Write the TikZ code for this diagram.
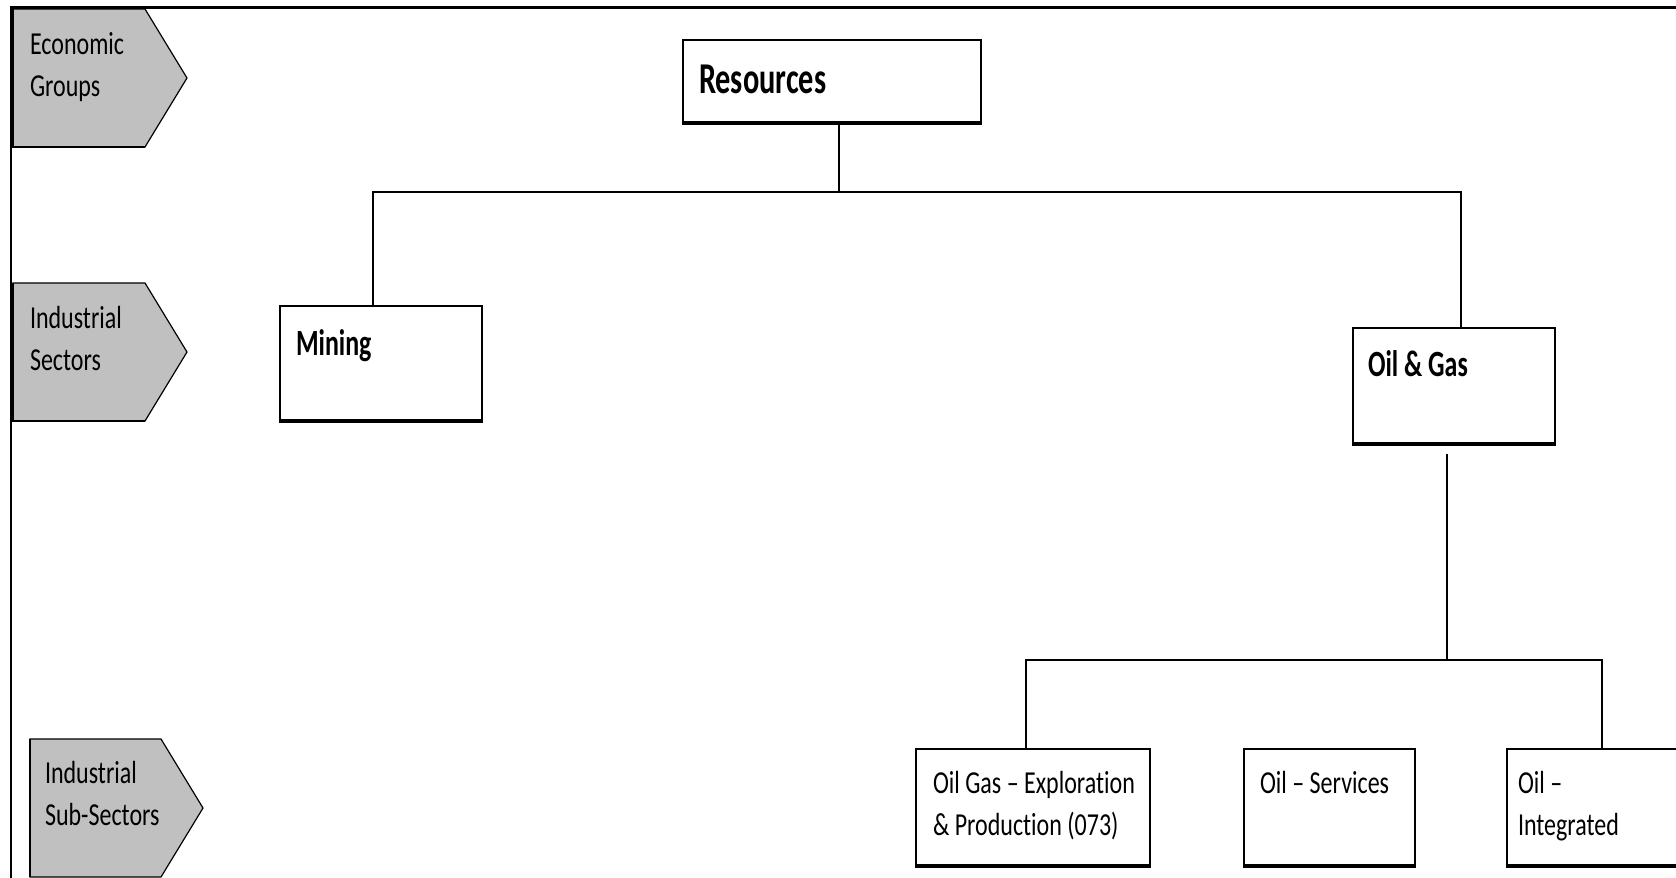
\documentclass[tikz,border=0pt]{standalone}
\usepackage{fontspec}
\usepackage{graphicx}
\setmainfont{Carlito}[Ligatures={TeX,NoCommon}]
\definecolor{tagfill}{RGB}{192,192,192}
\newcommand{\rgtxt}[1]{\scalebox{0.75}[1]{\fontsize{32}{42}\selectfont #1}}
\newcommand{\bdtxt}[1]{\scalebox{0.70}[1]{\fontsize{37}{44}\selectfont\bfseries #1}}
\newcommand{\bigtxt}[1]{\scalebox{0.69}[1]{\fontsize{44}{52}\selectfont\bfseries #1}}
\newcommand{\twol}[2]{\begin{tabular}[t]{@{}l@{}}#1\\#2\end{tabular}}
\tikzset{
  box/.style={draw, rectangle, line width=2pt, fill=white, inner sep=0pt},
  conn/.style={line width=2.8pt},
  botline/.style={line width=4pt},
  tag/.style={draw, fill=tagfill, line width=1.2pt, line join=miter},
  tagedge/.style={line width=2.5pt},
  frame/.style={line width=2.2pt},
  lbl/.style={anchor=base west, inner sep=0pt, outer sep=0pt},
}
\begin{document}
\begin{tikzpicture}[x=1pt, y=-1pt]
\useasboundingbox (0,0) rectangle (1676,878);
% frame lines
\draw[frame] (11,878) -- (11,7.5) -- (1676,7.5);
% level tags
\draw[tag] (13,9) -- (145,9) -- (187,78) -- (145,147) -- (13,147) -- cycle;
\draw[tagedge] (13,9) -- (13,147) -- (145,147);
\draw[tag] (13,283) -- (145,283) -- (187,352) -- (145,421) -- (13,421) -- cycle;
\draw[tagedge] (13,283) -- (13,421) -- (145,421);
\draw[tag] (30,739) -- (161,739) -- (203,808) -- (161,877) -- (30,877) -- cycle;
\draw[tagedge] (30,739) -- (30,877);
\node[lbl] (tg1) at (30,54) {\rgtxt{\twol{Economic}{Groups}}};
\node[lbl] (tg2) at (30,328) {\rgtxt{\twol{Industrial}{Sectors}}};
\node[lbl] (tg3) at (45,783) {\rgtxt{\twol{Industrial}{Sub-Sectors}}};
% boxes
\node[box, minimum width=298pt, minimum height=82pt] (res) at (832,81) {};
\node[box, minimum width=202pt, minimum height=114pt] (mining) at (381,363) {};
\node[box, minimum width=202pt, minimum height=115pt] (og) at (1454,385.5) {};
\node[box, minimum width=234pt, minimum height=116pt] (exp) at (1033,807) {};
\node[box, minimum width=171pt, minimum height=116pt] (serv) at (1329.5,807) {};
\node[box, minimum width=190pt, minimum height=116pt] (int) at (1602,807) {};
\foreach \n in {res,mining,og,exp,serv,int}
  \draw[botline] (\n.south west) -- (\n.south east);
% texts
\node[lbl] (tres) at (699,93) {\bigtxt{Resources}};
\node[lbl] (tmin) at (296,355) {\bdtxt{Mining}};
\node[lbl] (tog) at (1368,376) {\bdtxt{Oil \& Gas}};
\node[lbl] (texp) at (933,793) {\rgtxt{\twol{Oil Gas – Exploration}{\& Production (073)}}};
\node[lbl] (tserv) at (1260,793) {\rgtxt{Oil – Services}};
\node[lbl] (tint) at (1518,793) {\rgtxt{\twol{Oil –}{Integrated}}};
% connectors
\coordinate (j1) at (839,192);
\coordinate (j2) at (1447,660);
\draw[conn] ([xshift=7pt]res.south) -- (j1);
\draw[conn] ([xshift=-8pt]mining.north) |- (j1) -| ([xshift=7pt]og.north);
\draw[conn] ([shift={(-7pt,-10pt)}]og.south) -- (j2);
\draw[conn] ([xshift=-7pt]exp.north) |- (j2) -| (int.north);
\end{tikzpicture}
\end{document}
